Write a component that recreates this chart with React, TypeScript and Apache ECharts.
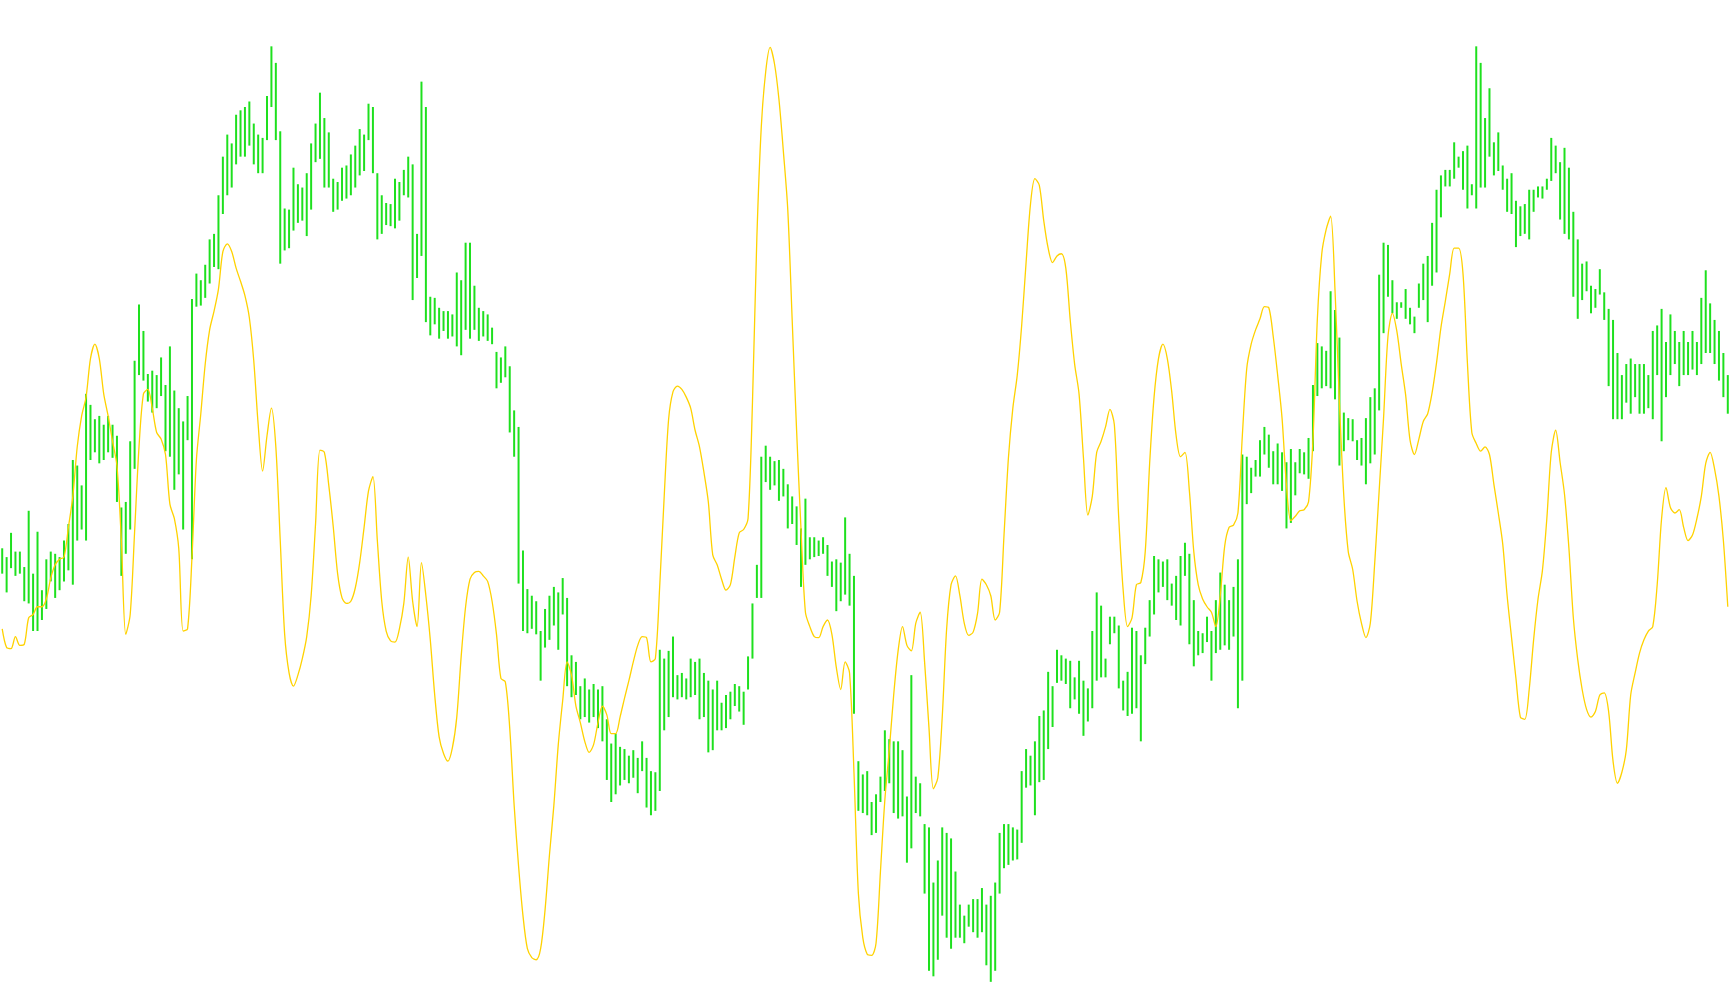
import React, { useEffect, useRef } from "react";
import * as echarts from "echarts";

// Bar highs (top) and lows (bottom), one bar every 4 px (y grows downward).
const highs: number[] = [
  497,505,483,500,500,514,463,520,482,535,
  507,500,502,505,490,475,417,422,440,357,
  367,380,377,385,377,385,395,460,455,400,
  327,276,300,339,336,340,324,349,314,354,
  370,382,359,271,248,254,240,217,212,177,
  142,122,130,104,100,97,92,112,122,125,
  87,42,57,119,189,190,152,167,170,157,
  130,112,84,107,120,162,165,152,150,140,
  132,117,122,94,97,157,177,184,185,162,
  165,154,142,149,212,74,97,269,270,279,
  282,282,285,247,254,220,220,259,279,282,
  285,297,319,324,314,332,372,387,499,534,
  540,545,572,552,540,532,537,524,542,594,
  600,622,615,625,620,625,622,652,674,665,
  677,679,685,680,687,672,687,699,700,589,
  597,590,577,612,610,615,597,600,597,610,
  617,625,617,637,630,627,620,622,627,595,
  547,512,414,404,414,418,417,425,439,450,
  459,479,452,487,487,490,487,494,509,507,
  510,469,502,522,690,702,699,727,720,704,
  662,670,672,672,680,722,612,704,710,747,
  750,800,780,750,755,760,790,820,830,820,
  815,815,805,820,812,800,755,747,747,750,
  752,699,679,685,672,649,644,609,622,589,
  594,597,599,614,599,617,624,572,537,549,
  597,559,559,567,617,609,569,572,594,569,
  544,504,507,509,507,529,522,504,492,502,
  544,572,574,559,572,544,519,530,544,532,
  507,412,414,424,417,399,387,394,409,402,
  410,419,407,419,407,410,397,349,311,314,
  318,264,281,306,374,379,380,399,397,379,
  360,352,249,220,222,254,274,274,262,279,
  287,257,239,232,202,172,159,154,154,129,
  142,137,132,167,42,57,107,80,129,120,
  150,162,157,182,187,185,172,172,169,169,
  162,125,132,147,134,152,192,217,239,237,
  259,262,244,265,280,290,320,340,330,325,
  330,330,330,340,300,295,280,310,285,300,
  310,300,310,300,310,270,245,275,290,300,
  320,340,
];

const lows: number[] = [
  520,537,515,522,520,545,547,572,572,562,
  552,527,542,535,527,517,530,490,480,490,
  417,410,420,417,410,415,455,522,502,480,
  425,340,345,364,374,370,359,409,414,444,
  430,480,399,507,278,277,270,257,242,244,
  194,177,170,149,142,142,132,149,157,157,
  127,97,127,239,227,225,209,202,200,214,
  190,147,144,170,170,192,190,182,180,177,
  170,159,155,127,157,217,212,204,205,207,
  200,177,179,272,252,232,292,304,294,307,
  300,307,305,314,322,299,307,299,309,305,
  309,312,352,347,342,392,414,529,572,574,
  570,575,617,587,580,567,589,557,622,632,
  630,652,650,655,650,660,672,707,727,720,
  712,707,710,705,719,699,732,739,735,717,
  662,650,632,634,632,634,632,630,652,650,
  682,680,662,662,660,652,640,645,657,625,
  597,542,542,437,444,440,454,450,479,475,
  494,532,512,507,505,504,502,522,532,554,
  545,539,549,647,735,737,739,757,755,727,
  717,710,737,742,740,782,769,737,740,810,
  880,885,870,830,850,860,850,850,855,840,
  845,850,845,875,890,880,810,787,784,780,
  779,764,714,712,739,709,707,679,659,619,
  617,620,642,634,647,667,654,642,617,614,
  614,584,574,624,644,649,647,642,672,602,
  577,557,537,532,544,549,562,567,522,584,
  604,594,592,582,617,592,589,585,589,577,
  642,617,457,447,432,432,412,424,439,439,
  445,479,474,449,429,430,434,409,359,352,
  350,352,362,422,409,399,400,417,422,439,
  420,412,372,302,269,284,289,279,289,294,
  302,279,272,292,259,247,197,169,169,162,
  152,172,189,177,189,170,170,142,159,155,
  172,192,194,224,214,212,217,192,179,180,
  172,164,157,199,212,217,269,289,272,264,
  284,279,267,290,350,380,380,380,365,375,
  360,375,375,370,380,340,400,360,340,330,
  350,340,340,335,340,330,320,320,330,345,
  360,375,
];

// Yellow indicator line, one value per bar.
const lineValues: number[] = [
  570,587,588,577,585,584,560,557,550,550,
  543,524,512,507,505,478,450,405,377,360,
  325,312,325,357,377,400,422,490,575,557,
  482,405,357,353,370,392,398,412,457,470,
  497,572,570,505,417,375,330,299,282,262,
  228,221,228,243,255,268,288,327,385,427,
  395,370,405,490,575,610,622,612,597,577,
  540,475,408,410,440,477,520,542,547,545,
  533,510,478,445,432,490,545,572,581,582,
  570,547,505,545,568,510,540,580,630,668,
  683,690,678,650,595,550,525,519,518,522,
  527,545,575,615,618,660,730,785,830,860,
  868,870,860,825,775,730,675,635,600,612,
  640,655,672,682,675,655,640,648,665,665,
  650,633,617,600,585,577,578,600,597,530,
  450,380,355,350,353,360,370,390,405,428,
  455,503,512,525,535,530,505,483,480,470,
  365,215,115,65,43,58,90,137,190,290,
  390,480,555,568,577,578,568,562,575,605,
  625,600,610,700,810,850,865,866,855,790,
  725,680,630,590,568,585,590,565,555,600,
  660,715,705,650,570,530,522,540,565,576,
  573,556,525,530,540,562,555,485,415,370,
  340,295,238,185,162,168,200,225,238,232,
  230,243,290,330,357,415,467,450,410,400,
  387,371,385,470,535,568,560,530,528,500,
  420,360,325,312,325,355,395,414,410,445,
  500,530,543,550,555,568,540,495,478,476,
  465,395,334,312,299,289,278,279,305,340,
  379,440,472,468,463,462,455,399,289,230,
  208,196,263,365,450,500,516,545,565,578,
  565,510,445,379,305,284,300,330,358,399,
  412,398,382,375,356,329,297,273,248,225,
  225,248,329,392,402,409,405,412,439,465,
  493,540,578,615,650,652,625,580,543,517,
  470,410,390,419,448,497,560,598,625,643,
  650,645,630,628,645,690,710,700,680,630,
  610,592,580,572,568,530,470,442,460,465,
  462,478,490,485,470,450,420,410,425,450,
  490,550,
];

const categories: string[] = highs.map((_, i) => String(i + 1));

const GREEN = "#1ee01e";
const YELLOW = "#ffd200";

export default function App() {
  const ref = useRef<HTMLDivElement>(null);

  useEffect(() => {
    if (!ref.current) return;
    const chart = echarts.init(ref.current, undefined, { renderer: "svg" });
    const barData = highs.map((h, i) => [i, h, lows[i]]);
    chart.setOption({
      animation: false,
      backgroundColor: "#ffffff",
      grid: { left: 0, right: 0, top: 0, bottom: 0, containLabel: false },
      xAxis: {
        type: "category",
        data: categories,
        boundaryGap: true,
        show: false,
      },
      yAxis: {
        type: "value",
        min: 0,
        max: 911,
        inverse: true,
        show: false,
      },
      series: [
        {
          type: "custom",
          silent: true,
          clip: false,
          z: 2,
          data: barData,
          encode: { x: 0, y: [1, 2] },
          renderItem: (params: any, api: any) => {
            const idx = api.value(0);
            const top = api.coord([idx, api.value(1)]);
            const bot = api.coord([idx, api.value(2)]);
            return {
              type: "rect",
              shape: {
                x: top[0] - 1,
                y: top[1],
                width: 2,
                height: Math.max(1, bot[1] - top[1]),
              },
              style: { fill: GREEN },
            };
          },
        },
        {
          type: "line",
          silent: true,
          z: 3,
          data: lineValues,
          showSymbol: false,
          smooth: 0.3,
          lineStyle: { color: YELLOW, width: 1.3 },
        },
      ],
    });
    return () => chart.dispose();
  }, []);

  return (
    <div
      ref={ref}
      style={{ position: "fixed", left: 0, top: 0, width: 1730, height: 1005, background: "#fff" }}
    />
  );
}
